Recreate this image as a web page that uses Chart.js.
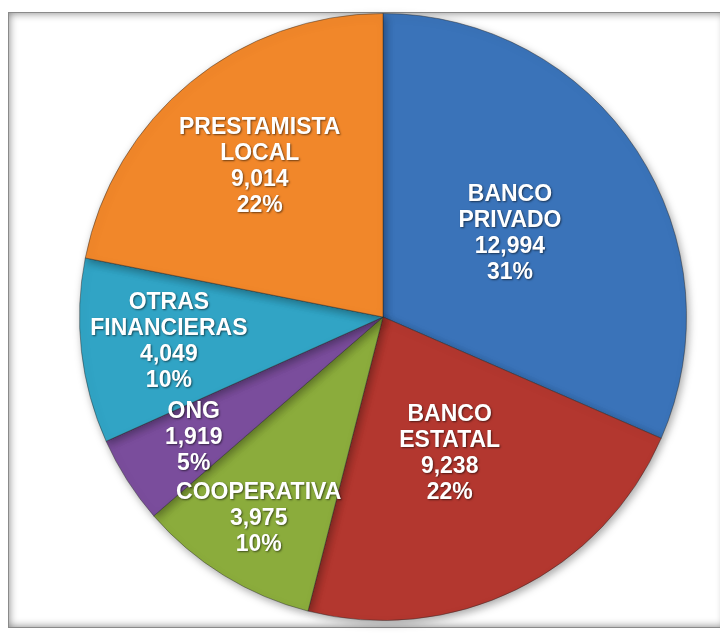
<!DOCTYPE html>
<html>
<head>
<meta charset="utf-8">
<script src="https://cdn.jsdelivr.net/npm/chart.js@4/dist/chart.umd.min.js"></script>
<style>
  html, body { margin: 0; padding: 0; background: #fff; }
  #wrap { position: relative; width: 720px; height: 634px; overflow: hidden; }
  #frame {
    position: absolute; left: 8px; top: 12px; width: 716px; height: 614px;
    border: 1px solid #8a8a8a;
    box-shadow: inset 0 0 9px rgba(0,0,0,0.5);
  }
  canvas { position: absolute; left: 0; top: 0; }
</style>
</head>
<body>
<div id="wrap">
  <div id="frame"></div>
  <canvas id="pie" width="720" height="634"></canvas>
</div>
<script>
const labels = [["BANCO", "PRIVADO"], ["BANCO", "ESTATAL"], ["COOPERATIVA"], ["ONG"], ["OTRAS", "FINANCIERAS"], ["PRESTAMISTA", "LOCAL"]];
const values = [12994, 9238, 3975, 1919, 4049, 9014];
const percents = [31, 22, 10, 5, 10, 22];
const colors = ["#3a73b9", "#b3372f", "#8bac3c", "#7a4d9c", "#31a4c5", "#f1872a"];
// how far out (fraction of radius) each label sits
const labelPos = [0.5, 0.5, 0.78, 0.74, 0.71, 0.64];

const pieShadow = {
  id: "pieShadow",
  beforeDatasetsDraw(chart) {
    const ctx = chart.ctx;
    ctx.save();
    ctx.shadowColor = "rgba(0,0,0,0.35)";
    ctx.shadowBlur = 8;
    ctx.shadowOffsetX = 2;
    ctx.shadowOffsetY = 3;
  },
  afterDatasetsDraw(chart) {
    chart.ctx.restore();
  }
};

const sliceLabels = {
  id: "sliceLabels",
  afterDraw(chart) {
    const ctx = chart.ctx;
    const meta = chart.getDatasetMeta(0);
    ctx.save();
    ctx.font = "bold 23px 'Liberation Sans', Arial, sans-serif";
    ctx.fillStyle = "#ffffff";
    ctx.textAlign = "center";
    ctx.textBaseline = "middle";
    ctx.shadowColor = "rgba(0,0,0,0.55)";
    ctx.shadowBlur = 2;
    ctx.shadowOffsetX = 1;
    ctx.shadowOffsetY = 1;
    meta.data.forEach((arc, i) => {
      const p = arc.getProps(["x", "y", "startAngle", "endAngle", "outerRadius"], true);
      const mid = (p.startAngle + p.endAngle) / 2;
      const r = p.outerRadius * labelPos[i];
      const cx = p.x + Math.cos(mid) * r;
      const cy = p.y + Math.sin(mid) * r;
      const lines = labels[i].concat([
        values[i].toLocaleString("en-US"),
        percents[i] + "%"
      ]);
      const lh = 26;
      const y0 = cy - (lines.length - 1) * lh / 2;
      lines.forEach((t, j) => ctx.fillText(t, cx, y0 + j * lh));
    });
    ctx.restore();
  }
};

new Chart(document.getElementById("pie"), {
  type: "pie",
  data: {
    labels: labels.map((l) => l.join(" ")),
    datasets: [{
      data: values,
      backgroundColor: colors,
      borderColor: "rgba(40,40,40,0.45)",
      borderWidth: 1
    }]
  },
  options: {
    responsive: false,
    animation: false,
    rotation: 0,
    layout: { padding: { left: 79, right: 33, top: 13, bottom: 13 } },
    plugins: {
      legend: { display: false },
      tooltip: { enabled: false }
    }
  },
  plugins: [pieShadow, sliceLabels]
});
</script>
</body>
</html>
